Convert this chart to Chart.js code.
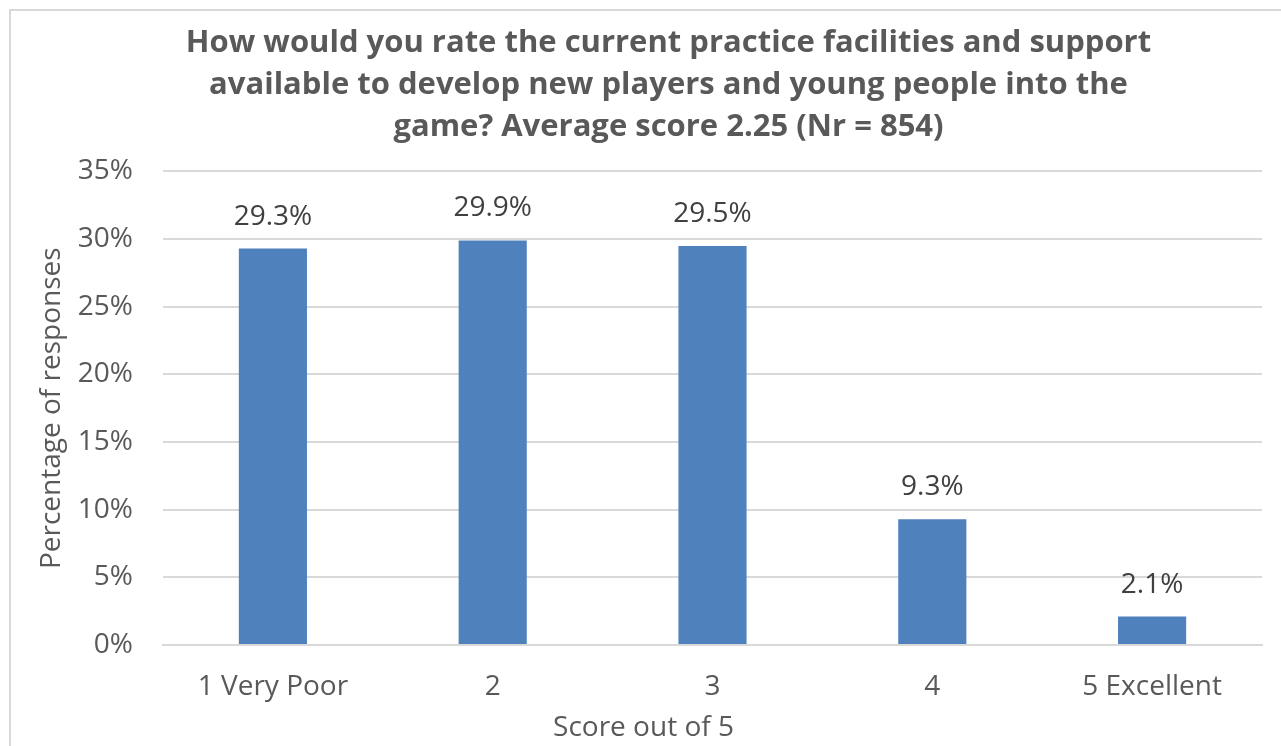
<!DOCTYPE html>
<html lang="en">
  <head>
    <meta charset="UTF-8" />
    <title>Practice facilities rating</title>
  </head>

  <style>
    html,
    body {
      margin: 0;
      padding: 0;
      background: #ffffff;
      overflow: hidden;
    }

    .frame {
      position: absolute;
      left: 9px;
      top: 9px;
      width: 1400px;
      height: 900px;
      border: 2px solid #d9d9d9;
    }

    canvas {
      position: absolute;
      left: 0;
      top: 0;
    }
  </style>

  <body>
    <div class="frame"></div>
    <canvas id="chart_id" width="1281" height="746"></canvas>
    <script src="https://cdn.jsdelivr.net/npm/chart.js@4.4.1/dist/chart.umd.min.js"></script>
    <script>
      // data points
      let categories = ["1 Very Poor", "2", "3", "4", "5 Excellent"];
      let responses = [29.3, 29.9, 29.5, 9.3, 2.1];
      let titleLines = [
        "How would you rate the current practice facilities and support",
        "available to develop new players and young people into the",
        "game? Average score 2.25 (Nr = 854)",
      ];

      let fontName = "'Open Sans', 'Noto Sans', sans-serif";
      let textGrey = "#595959";

      // labels above the bars
      let barLabels = {
        id: "barLabels",
        afterDatasetsDraw(chart) {
          let ctx = chart.ctx;
          let meta = chart.getDatasetMeta(0);
          ctx.save();
          ctx.font = "28px " + fontName;
          ctx.fillStyle = "#404040";
          ctx.textAlign = "center";
          ctx.textBaseline = "middle";
          meta.data.forEach(function (bar, i) {
            ctx.fillText(responses[i].toFixed(1) + "%", bar.x, bar.y - 32);
          });
          ctx.restore();
        },
      };

      // in the original the chart title sits a bit right of centre,
      // and the x axis title is centred on the whole canvas, not the plot
      let textShift = {
        id: "textShift",
        afterLayout(chart) {
          chart.titleBlock.left += 20;
          chart.titleBlock.right += 20;

          let sx = chart.scales.x;
          if (!sx._wrapped) {
            let drawTitle = sx.drawTitle.bind(sx);
            sx.drawTitle = function () {
              let l = sx.left;
              let r = sx.right;
              sx.left -= 69;
              sx.right -= 69;
              drawTitle();
              sx.left = l;
              sx.right = r;
            };
            sx._wrapped = true;
          }
        },
      };

      let ctx = document.getElementById("chart_id").getContext("2d");

      let chart = new Chart(ctx, {
        type: "bar",
        data: {
          labels: categories,
          datasets: [
            {
              data: responses,
              backgroundColor: "#4f81bd",
              borderWidth: 0,
              categoryPercentage: 1,
              barPercentage: 0.31,
            },
          ],
        },
        options: {
          responsive: false,
          animation: false,
          layout: {
            padding: { left: 35, right: 19, top: 22, bottom: 1 },
          },
          plugins: {
            legend: { display: false },
            tooltip: { enabled: false },
            title: {
              display: true,
              text: titleLines,
              color: textGrey,
              font: { family: fontName, size: 31, weight: "bold", lineHeight: 1.36 },
              padding: { top: 0, bottom: 23 },
            },
          },
          scales: {
            x: {
              grid: { display: false, drawTicks: false },
              border: { display: true, color: "#d9d9d9", width: 2 },
              ticks: {
                color: textGrey,
                font: { family: fontName, size: 28 },
                padding: 25,
              },
              title: {
                display: true,
                text: "Score out of 5",
                color: textGrey,
                font: { family: fontName, size: 28 },
                padding: { top: 4, bottom: 0 },
              },
              afterFit: function (scale) {
                scale.height = 100;
              },
            },
            y: {
              min: 0,
              max: 35,
              grid: { color: "#d9d9d9", lineWidth: 2, drawTicks: false },
              border: { display: false },
              ticks: {
                stepSize: 5,
                color: textGrey,
                font: { family: fontName, size: 28 },
                padding: 30,
                callback: function (v) {
                  return v + "%";
                },
              },
              title: {
                display: true,
                text: "Percentage of responses",
                color: textGrey,
                font: { family: fontName, size: 28 },
                padding: { top: 0, bottom: 6 },
              },
              afterFit: function (scale) {
                scale.width = 128;
              },
            },
          },
        },
        plugins: [barLabels, textShift],
      });
    </script>
  </body>
</html>
